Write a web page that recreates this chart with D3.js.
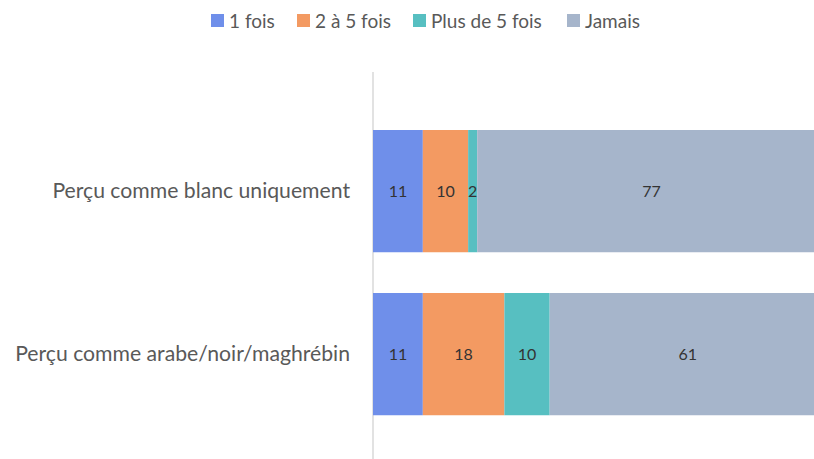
<!DOCTYPE html>
<html>
<head>
<meta charset="utf-8">
<script src="https://cdn.jsdelivr.net/npm/d3@7"></script>
<style>
  body { margin: 0; background: #fff; }
  svg { display: block; }
  text { font-family: Lato, "Open Sans", sans-serif; }
</style>
</head>
<body>
<svg id="chart" width="814" height="459"></svg>
<script>
const categories = ["Perçu comme blanc uniquement", "Perçu comme arabe/noir/maghrébin"];
const seriesNames = ["1 fois", "2 à 5 fois", "Plus de 5 fois", "Jamais"];
const colours = ["#6f8fea", "#f39a62", "#57bfc1", "#a6b5cb"];
const unFois = [11, 11];
const deuxACinq = [10, 18];
const plusDeCinq = [2, 10];
const jamais = [77, 61];

const width = 814, height = 459;
const svg = d3.select("#chart");

// table for the stack
const rows = categories.map((c, i) => ({
  cat: c,
  "1 fois": unFois[i],
  "2 à 5 fois": deuxACinq[i],
  "Plus de 5 fois": plusDeCinq[i],
  "Jamais": jamais[i]
}));

const stack = d3.stack().keys(seriesNames)(rows);

const x = d3.scaleLinear().domain([0, 100]).range([373, 826]);
const y = d3.scaleBand().domain(categories).range([130, 415.25]).paddingInner(0.25).paddingOuter(0);
const colour = d3.scaleOrdinal().domain(seriesNames).range(colours);

const plot = svg.append("g");

// axis line
plot.append("line")
  .attr("x1", x(0)).attr("x2", x(0))
  .attr("y1", 72).attr("y2", height)
  .attr("stroke", "#d9d9d9").attr("stroke-width", 1.5);

const groups = plot.selectAll("g.series")
  .data(stack)
  .join("g")
  .attr("class", "series")
  .attr("fill", d => colour(d.key));

groups.selectAll("rect")
  .data(d => d)
  .join("rect")
  .attr("x", d => x(d[0]))
  .attr("y", d => y(d.data.cat))
  .attr("width", d => x(d[1]) - x(d[0]))
  .attr("height", y.bandwidth());

groups.selectAll("text")
  .data(d => d.map(v => ({ v, key: d.key })))
  .join("text")
  .attr("x", d => (x(d.v[0]) + x(d.v[1])) / 2)
  .attr("y", d => y(d.v.data.cat) + y.bandwidth() / 2)
  .attr("dy", "0.35em")
  .attr("text-anchor", "middle")
  .attr("font-size", 16)
  .attr("fill", "#333")
  .text(d => d.v.data[d.key]);

// category labels
const yAxis = d3.axisLeft(y).tickSize(0).tickPadding(23);
const ax = svg.append("g")
  .attr("transform", `translate(${x(0)},0)`)
  .call(yAxis);
ax.select(".domain").remove();
ax.selectAll("text")
  .attr("font-size", 21.2)
  .attr("fill", "#595959")
  .style("font-family", 'Lato, "Open Sans", sans-serif');

// legend
const legendX = [211, 297, 413, 567];
const legend = svg.append("g")
  .selectAll("g")
  .data(seriesNames)
  .join("g")
  .attr("transform", (d, i) => `translate(${legendX[i]},14)`);
legend.append("rect")
  .attr("width", 13).attr("height", 13)
  .attr("fill", d => colour(d));
legend.append("text")
  .attr("x", 18).attr("y", 7).attr("dy", "0.35em")
  .attr("font-size", 19)
  .attr("fill", "#595959")
  .text(d => d);
</script>
</body>
</html>
